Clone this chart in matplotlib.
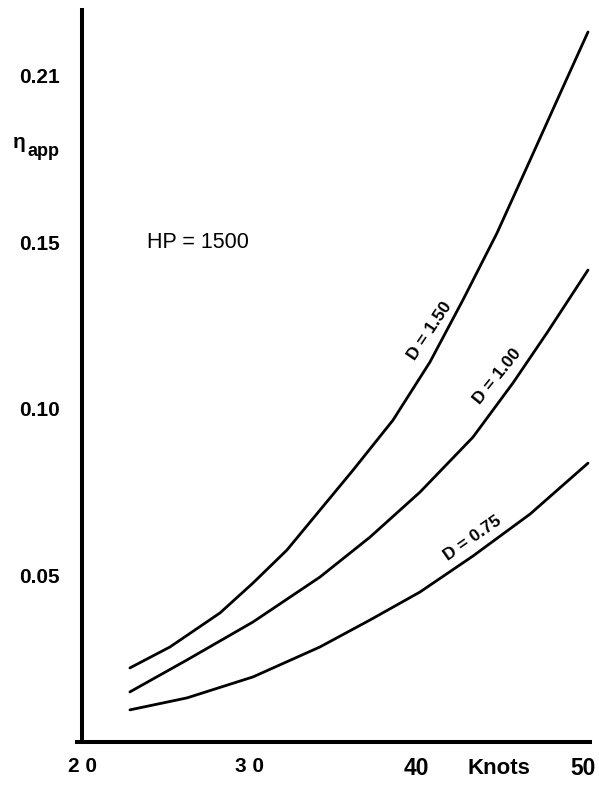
import matplotlib
matplotlib.use("Agg")
import matplotlib.pyplot as plt

plt.rcParams['font.family'] = ['Liberation Sans', 'DejaVu Sans']

# speed (knots) vs apparent efficiency, HP = 1500
knots_150 = [22.87, 25.27, 28.26, 30.24, 32.27, 34.25, 36.23, 38.62, 40.84, 42.81, 44.85, 46.83, 48.80, 50.30]
eta_150 = [0.0221, 0.0284, 0.0386, 0.0476, 0.0575, 0.0695, 0.0815, 0.0965, 0.1140, 0.1326, 0.1527, 0.1746, 0.1965, 0.2131]

knots_100 = [22.87, 26.29, 30.24, 34.25, 37.25, 40.24, 43.41, 45.81, 47.84, 50.30]
eta_100 = [0.0149, 0.0245, 0.0359, 0.0494, 0.0614, 0.0749, 0.0914, 0.1077, 0.1227, 0.1416]

knots_075 = [22.87, 26.29, 30.24, 34.25, 37.25, 40.24, 43.41, 46.83, 50.30]
eta_075 = [0.0095, 0.0131, 0.0194, 0.0284, 0.0365, 0.0449, 0.0557, 0.0683, 0.0836]

yticks = [0.05, 0.10, 0.15, 0.20]
ytick_labels = ['0.05', '0.10', '0.15', '0.21']
xticks = [20, 30, 40, 50]
xtick_labels = ['2 0', '3 0', '40', '50']

fig = plt.figure(figsize=(5.99, 7.85), dpi=100)
ax = fig.add_axes([77 / 599, 1 - 741.5 / 785, (590 - 77) / 599, (741.5 - 10) / 785])

for k, e in [(knots_150, eta_150), (knots_100, eta_100), (knots_075, eta_075)]:
    ax.plot(k, e, color='black', lw=2.0, solid_capstyle='round', solid_joinstyle='round')

ax.set_xlim(19.7, 50.42)
ax.set_ylim(0, 0.2197)

for s in ['top', 'right']:
    ax.spines[s].set_visible(False)
ax.spines['left'].set_position(('data', 20))
ax.spines['left'].set_linewidth(2.9)
ax.spines['bottom'].set_linewidth(2.9)

ax.set_yticks(yticks)
ax.set_yticklabels(ytick_labels, fontsize=15, fontweight='bold')
ax.tick_params(axis='y', length=0, pad=16)
ax.set_xticks(xticks)
ax.set_xticklabels(xtick_labels, fontweight='bold')
ax.tick_params(axis='x', length=0, pad=11)
for i, lab in enumerate(ax.get_xticklabels()):
    lab.set_fontsize(15 if i < 2 else 16.5)

fig.text(499 / 599, 1 - 769 / 785, 'Knots', fontsize=16, fontweight='bold', ha='center', va='center')

ax.text(23.9, 0.150, 'HP = 1500', fontsize=15.5, ha='left', va='center')

fig.text(13 / 599, 1 - 143 / 785, 'η', fontsize=15, fontweight='bold', ha='left', va='center')
fig.text(28 / 599, 1 - 151 / 785, 'app', fontsize=13, fontweight='bold', ha='left', va='center')

ax.text(40.84, 0.1233, 'D = 1.50', fontsize=12.5, fontweight='bold', rotation=56,
        ha='center', va='center', rotation_mode='anchor')
ax.text(44.85, 0.1098, 'D = 1.00', fontsize=12.5, fontweight='bold', rotation=51,
        ha='center', va='center', rotation_mode='anchor')
ax.text(43.41, 0.0611, 'D = 0.75', fontsize=12.5, fontweight='bold', rotation=35,
        ha='center', va='center', rotation_mode='anchor')

fig.savefig('out.png', dpi=100)
